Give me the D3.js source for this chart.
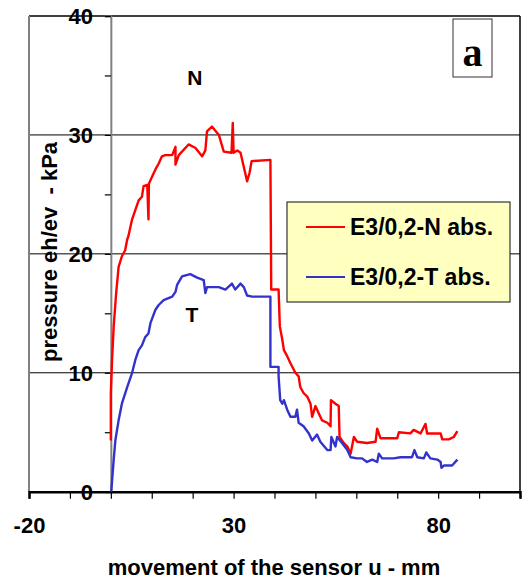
<!DOCTYPE html>
<html>
<head>
<meta charset="utf-8">
<script src="https://cdn.jsdelivr.net/npm/d3@7/dist/d3.min.js"></script>
<style>
  html, body { margin: 0; padding: 0; background: #fff; }
  svg { display: block; font-family: Arial, "Liberation Sans", sans-serif; }
</style>
</head>
<body>
<div id="chart"></div>
<script>
// movement u (mm) / pressure (kPa)
const nMovement = [0.0, 0.0, 0.3, 0.7, 1.3, 1.9, 2.7, 3.5, 4.0, 4.3, 5.2, 6.0, 6.8, 7.6, 8.0, 8.9, 9.2, 9.3, 10.1, 10.9, 11.7, 12.5, 13.3, 15.0, 15.8, 15.8, 16.6, 19.0, 20.7, 22.3, 23.1, 23.5, 24.7, 26.4, 27.6, 29.5, 29.8, 30.0, 30.9, 31.7, 32.5, 33.3, 33.9, 34.4, 39.0, 39.2, 41.0, 41.3, 41.9, 42.3, 43.1, 43.9, 45.1, 45.9, 46.3, 47.1, 48.0, 48.8, 49.2, 50.0, 50.8, 51.6, 52.9, 53.7, 53.8, 54.9, 55.7, 55.9, 56.9, 57.8, 58.6, 59.4, 60.2, 62.6, 64.7, 65.1, 65.9, 70.0, 70.4, 73.2, 74.0, 75.7, 76.9, 77.3, 80.6, 81.0, 82.6, 83.8, 84.7];
const nPressure = [4.3, 8.3, 11.1, 13.9, 16.7, 18.9, 19.8, 20.3, 21.2, 21.5, 22.9, 23.7, 24.5, 24.8, 25.7, 25.8, 22.9, 25.9, 26.5, 27.1, 27.6, 28.2, 28.3, 28.3, 29.0, 27.5, 28.3, 29.2, 28.9, 28.2, 28.7, 30.3, 30.7, 30.0, 28.6, 28.5, 31.0, 28.5, 28.7, 28.5, 27.3, 26.1, 26.8, 27.8, 27.9, 17.0, 17.0, 13.9, 12.8, 11.9, 11.4, 10.8, 10.0, 9.7, 8.8, 8.3, 8.0, 7.4, 6.3, 7.2, 6.6, 6.0, 5.8, 5.5, 7.7, 7.4, 7.2, 4.6, 4.1, 3.8, 3.2, 4.6, 4.2, 4.1, 4.2, 5.3, 4.5, 4.5, 5.0, 4.9, 5.2, 4.9, 5.7, 4.9, 4.9, 4.4, 4.4, 4.6, 5.1];

const tMovement = [0.1, 0.7, 1.1, 1.9, 2.7, 4.0, 5.2, 6.0, 6.8, 7.6, 8.4, 9.2, 9.7, 10.9, 11.7, 12.9, 15.0, 15.8, 16.2, 17.4, 19.4, 21.1, 22.7, 23.1, 23.5, 26.4, 28.0, 29.6, 30.4, 31.7, 32.5, 33.3, 34.5, 39.0, 39.0, 41.0, 41.0, 41.4, 41.9, 42.3, 43.1, 43.9, 45.1, 45.5, 45.9, 47.1, 48.4, 49.2, 50.4, 51.2, 52.9, 53.7, 53.9, 54.9, 55.3, 56.5, 57.8, 58.6, 60.2, 61.4, 62.6, 63.9, 65.1, 65.5, 66.3, 69.1, 70.8, 73.6, 74.2, 74.9, 76.5, 77.1, 78.1, 79.8, 80.6, 80.8, 81.4, 83.4, 84.7];
const tPressure = [0.0, 2.7, 4.3, 6.0, 7.4, 8.8, 10.0, 11.1, 11.9, 12.3, 13.0, 13.3, 14.2, 15.3, 15.7, 16.1, 16.4, 16.8, 17.4, 18.1, 18.3, 18.0, 17.8, 16.7, 17.2, 17.2, 17.0, 17.5, 17.0, 17.5, 17.2, 16.5, 16.4, 16.4, 10.5, 10.5, 9.7, 7.7, 7.4, 7.7, 6.9, 6.3, 6.3, 6.9, 5.8, 5.5, 4.9, 4.3, 4.8, 4.2, 3.5, 3.5, 4.6, 3.8, 4.6, 4.1, 3.5, 2.9, 2.8, 2.8, 2.5, 2.7, 2.5, 3.2, 2.8, 2.8, 2.9, 2.9, 3.5, 2.9, 2.8, 3.3, 2.8, 2.7, 2.5, 2.0, 2.2, 2.2, 2.7];

const seriesNames = ['E3/0,2-N abs.', 'E3/0,2-T abs.'];
const seriesColors = ['#ff0000', '#3333cc'];
const xTicks = [-20, -10, 0, 10, 20, 30, 40, 50, 60, 70, 80, 90, 100];
const xLabels = [-20, 30, 80];
const yTicks = [0, 5, 10, 15, 20, 25, 30, 35, 40];
const yLabels = [0, 10, 20, 30, 40];
const gridValues = [10, 20, 30, 40];

const W = 522, H = 581;
const plotLeft = 29, plotRight = 520, plotTop = 16, plotBottom = 491.7;

const svg = d3.select('#chart').append('svg')
  .attr('width', W)
  .attr('height', H);

const x = d3.scaleLinear().domain([-20, 100]).range([plotLeft, plotRight]);
const y = d3.scaleLinear().domain([0, 40]).range([plotBottom, plotTop]);

// gridlines
svg.append('g')
  .selectAll('line')
  .data(gridValues)
  .enter().append('line')
  .attr('x1', plotLeft).attr('x2', plotRight)
  .attr('y1', d => y(d)).attr('y2', d => y(d))
  .attr('stroke', '#000')
  .attr('stroke-width', d => d === 40 ? 1.5 : 1);

// frame sides
svg.append('line')
  .attr('x1', plotLeft).attr('x2', plotLeft).attr('y1', plotTop).attr('y2', plotBottom)
  .attr('stroke', '#808080').attr('stroke-width', 2);
svg.append('line')
  .attr('x1', plotRight).attr('x2', plotRight).attr('y1', plotTop).attr('y2', plotBottom)
  .attr('stroke', '#000').attr('stroke-width', 1.5);

// y axis at u = 0
const yAxis = svg.append('g')
  .attr('transform', `translate(${x(0)},0)`)
  .call(d3.axisLeft(y).tickValues(yTicks).tickSize(6).tickFormat(''));
yAxis.select('.domain').attr('stroke', '#808080').attr('stroke-width', 2);
yAxis.selectAll('.tick line').attr('stroke', '#000').attr('stroke-width', 1.2);

svg.append('g')
  .selectAll('text')
  .data(yLabels)
  .enter().append('text')
  .attr('x', 93)
  .attr('y', d => y(d))
  .attr('dy', '0.36em')
  .attr('text-anchor', 'end')
  .style('font-size', '22px')
  .style('font-weight', 'bold')
  .text(d => d);

// x axis
const xAxis = svg.append('g')
  .attr('transform', `translate(0,${plotBottom})`)
  .call(d3.axisBottom(x).tickValues(xTicks).tickSize(7).tickPadding(19)
    .tickFormat(d => xLabels.includes(d) ? d : ''));
xAxis.select('.domain').attr('stroke', '#000').attr('stroke-width', 2.5);
xAxis.selectAll('.tick line').attr('stroke', '#000').attr('stroke-width', 1.2);
xAxis.selectAll('text')
  .attr('fill', '#000')
  .style('font-size', '22px')
  .style('font-weight', 'bold')
  .style('font-family', 'Arial, "Liberation Sans", sans-serif');

// curves
const line = d3.line().x(d => x(d[0])).y(d => y(d[1]));
const nData = nMovement.map((u, i) => [u, nPressure[i]]);
const tData = tMovement.map((u, i) => [u, tPressure[i]]);

[nData, tData].forEach((data, i) => {
  svg.append('path')
    .datum(data)
    .attr('d', line)
    .attr('fill', 'none')
    .attr('stroke', seriesColors[i])
    .attr('stroke-width', 2.4)
    .attr('stroke-linejoin', 'round');
});

// curve tags
svg.append('text').attr('x', x(20.5)).attr('y', y(34.2)).attr('text-anchor', 'middle')
  .style('font-size', '21px').style('font-weight', 'bold').text('N');
svg.append('text').attr('x', x(19.8)).attr('y', y(14.3)).attr('text-anchor', 'middle')
  .style('font-size', '21px').style('font-weight', 'bold').text('T');

// legend
const legend = svg.append('g').attr('transform', 'translate(287,202)');
legend.append('rect')
  .attr('width', 223).attr('height', 100)
  .attr('fill', '#ffffc0')
  .attr('stroke', '#333').attr('stroke-width', 1.2);
seriesNames.forEach((name, i) => {
  const row = legend.append('g').attr('transform', `translate(0,${25 + i * 50})`);
  row.append('line')
    .attr('x1', 19).attr('x2', 58)
    .attr('stroke', seriesColors[i]).attr('stroke-width', 2);
  row.append('text')
    .attr('x', 63).attr('dy', '0.36em')
    .style('font-size', '23px').style('font-weight', 'bold')
    .text(name);
});

// panel letter
svg.append('rect')
  .attr('x', 453).attr('y', 19).attr('width', 39).attr('height', 58)
  .attr('fill', '#fff').attr('stroke', '#333').attr('stroke-width', 1);
svg.append('text')
  .attr('x', 472.5).attr('y', 66)
  .attr('text-anchor', 'middle')
  .style('font-family', '"Liberation Serif", "Times New Roman", serif')
  .style('font-size', '40px').style('font-weight', 'bold')
  .text('a');

// axis titles
svg.append('text')
  .attr('x', 274).attr('y', 575)
  .attr('text-anchor', 'middle')
  .style('font-size', '22px').style('font-weight', 'bold')
  .text('movement of the sensor u - mm');
svg.append('text')
  .attr('transform', 'translate(57,252) rotate(-90)')
  .attr('text-anchor', 'middle')
  .style('font-size', '22px').style('font-weight', 'bold')
  .style('white-space', 'pre')
  .text('pressure eh/ev  - kPa');
</script>
</body>
</html>
